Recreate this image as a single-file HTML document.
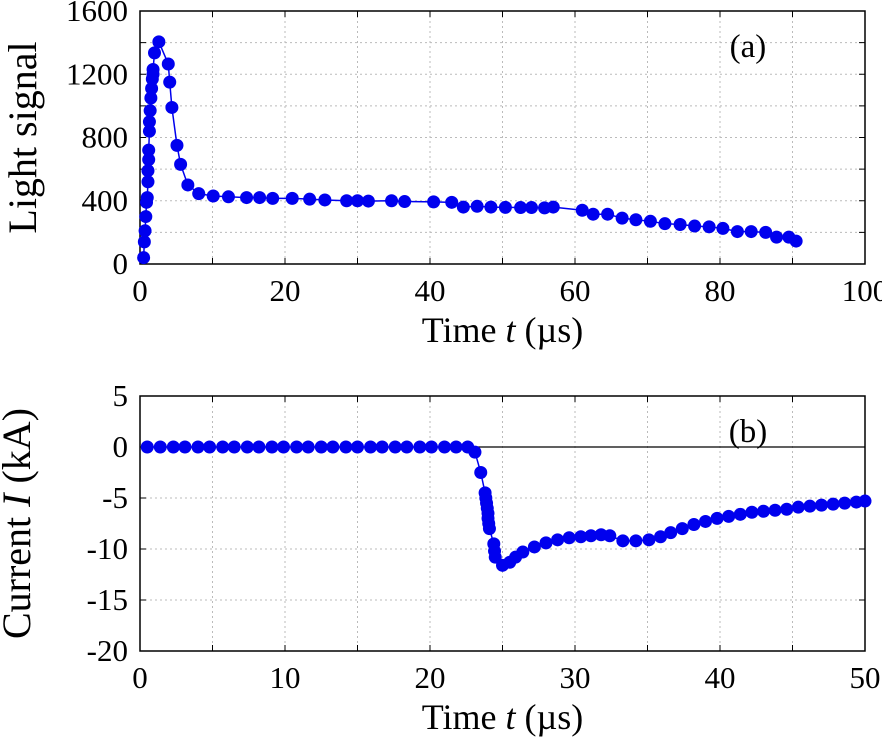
<!DOCTYPE html>
<html><head><meta charset="utf-8"><style>
body{margin:0;background:#fff}
svg text{font-family:"Liberation Serif","Times New Roman",serif;fill:#000}
</style></head><body>
<svg id="c" width="882" height="737" xmlns="http://www.w3.org/2000/svg"></svg>
<script>
const aX=[0.5,0.6,0.7,0.8,0.9,1.0,1.1,1.1,1.2,1.2,1.3,1.3,1.4,1.5,1.6,1.7,1.8,1.8,2.0,2.6,3.9,4.1,4.4,5.1,5.6,6.6,8.1,10.1,12.2,14.7,16.5,18.3,21,23.4,25.5,28.5,30,31.5,34.7,36.5,40.5,43,44.6,46.5,48.4,50.4,52.5,54,55.8,57,61,62.5,64.5,66.5,68.4,70.4,72.4,74.5,76.5,78.5,80.4,82.4,84.3,86.3,87.8,89.5,90.5];
const aY=[40,140,210,300,390,420,520,590,660,720,840,900,970,1050,1110,1170,1200,1230,1335,1405,1265,1150,990,750,630,500,445,430,425,420,420,415,415,410,405,400,400,398,400,395,393,390,360,365,360,358,357,357,355,360,340,315,315,290,280,270,255,250,240,235,225,205,205,200,170,170,145,160];
const bX=[0.5,1.4,2.3,3.1,4.0,4.8,5.7,6.5,7.4,8.2,9.1,9.9,10.8,11.6,12.5,13.3,14.2,15.0,15.9,16.7,17.6,18.4,19.3,20.1,21.0,21.8,22.6,23.1,23.5,23.8,23.85,23.9,23.95,24,24,24.05,24.1,24.4,24.45,24.5,25,25.5,25.9,26.4,27.2,28,28.8,29.6,30.4,31.1,31.8,32.4,33.3,34.2,35.1,35.9,36.6,37.4,38.2,39,39.8,40.6,41.4,42.2,43,43.8,44.6,45.4,46.2,47,47.8,48.6,49.4,50];
const bY=[0,0,0,0,0,0,0,0,0,0,0,0,0,0,0,0,0,0,0,0,0,0,0,0,0,0,0,-0.5,-2.5,-4.5,-5,-5.5,-6,-6.5,-7,-7.5,-8,-9.5,-10.2,-10.8,-11.6,-11.3,-10.8,-10.3,-9.8,-9.4,-9.1,-8.9,-8.8,-8.7,-8.6,-8.7,-9.2,-9.2,-9.1,-8.8,-8.4,-8,-7.6,-7.3,-7,-6.8,-6.6,-6.4,-6.3,-6.2,-6.1,-5.9,-5.8,-5.7,-5.6,-5.5,-5.4,-5.3];
const aXTicks=[0,20,40,60,80,100],aYTicks=[0,400,800,1200,1600];
const bXTicks=[0,10,20,30,40,50],bYTicks=[5,0,-5,-10,-15,-20];
const NS="http://www.w3.org/2000/svg",svg=document.getElementById('c');
const FF='"Liberation Serif", serif';
function el(t,a,p){const e=document.createElementNS(NS,t);for(const k in a)e.setAttribute(k,a[k]);(p||svg).appendChild(e);return e;}
function panel(o){
 const g=el('g',{});
 const L=140,R=865,T=o.T,B=o.B;
 const sx=v=>L+(v-o.x0)/(o.x1-o.x0)*(R-L), sy=v=>B-(v-o.y0)/(o.y1-o.y0)*(B-T);
 for(let v=o.x0+o.xm;v<o.x1-1e-9;v+=o.xm){const l=el('line',{x1:sx(v),x2:sx(v),y1:T,y2:B,stroke:'#bbb','stroke-dasharray':'2,3','stroke-width':1},g);
  el('line',{x1:sx(v),x2:sx(v),y1:B,y2:B-6,stroke:'#000'},g);el('line',{x1:sx(v),x2:sx(v),y1:T,y2:T+6,stroke:'#000'},g);}
 for(let v=o.y0+o.ym;v<o.y1-1e-9;v+=o.ym){const l=el('line',{x1:L,x2:R,y1:sy(v),y2:sy(v),stroke:'#bbb','stroke-dasharray':'2,3','stroke-width':1},g);
  el('line',{x1:L,x2:L+6,y1:sy(v),y2:sy(v),stroke:'#000'},g);el('line',{x1:R,x2:R-6,y1:sy(v),y2:sy(v),stroke:'#000'},g);}
 if(o.zero){const z=el('line',{x1:L,x2:R,y1:sy(0),y2:sy(0),stroke:'#000','stroke-width':1.3},g);}
 const f=el('rect',{x:L,y:T,width:R-L,height:B-T,fill:'none',stroke:'#000','stroke-width':1.5},g);
 o.xt.forEach(v=>{const t=el('text',{x:sx(v),y:B+37,'text-anchor':'middle','font-size':31,'font-family':FF},g);t.textContent=v;});
 o.yt.forEach(v=>{const t=el('text',{x:L-12,y:sy(v)+10,'text-anchor':'end','font-size':31,'font-family':FF},g);t.textContent=v;});
 const ln=el('polyline',{points:o.X.map((x,i)=>sx(x)+','+sy(o.Y[i])).join(' '),fill:'none',stroke:'#0000ee','stroke-width':1.5},g);
 o.X.forEach((x,i)=>{const c=el('circle',{cx:sx(x),cy:sy(o.Y[i]),r:6.5,fill:'#0000ee'},g);});
 const xl=el('text',{x:(L+R)/2,y:B+78,'text-anchor':'middle','font-size':36,'font-family':FF},g);xl.innerHTML='Time <tspan font-style="italic">t</tspan> (µs)';
 const yl=el('text',{transform:`translate(${o.yx},${(T+B)/2}) rotate(-90)`,'text-anchor':'middle','font-size':o.ys,'font-family':FF},g);yl.innerHTML=o.ylab;
 const pl=el('text',{x:748,y:T+46,'text-anchor':'middle','font-size':33,'font-family':FF},g);pl.textContent=o.lab;
}
panel({name:'panel-a',T:11,B:264,x0:0,x1:100,y0:0,y1:1600,xm:10,ym:200,xt:aXTicks,yt:aYTicks,X:aX,Y:aY,ylab:'Light signal',yx:36,ys:40,lab:'(a)'});
panel({name:'panel-b',T:396,B:651,x0:0,x1:50,y0:-20,y1:5,xm:5,ym:5,xt:bXTicks,yt:bYTicks,X:bX,Y:bY,ylab:'Current <tspan font-style="italic">I</tspan> (kA)',yx:30,ys:40,lab:'(b)',zero:true});
</script>
</body></html>
